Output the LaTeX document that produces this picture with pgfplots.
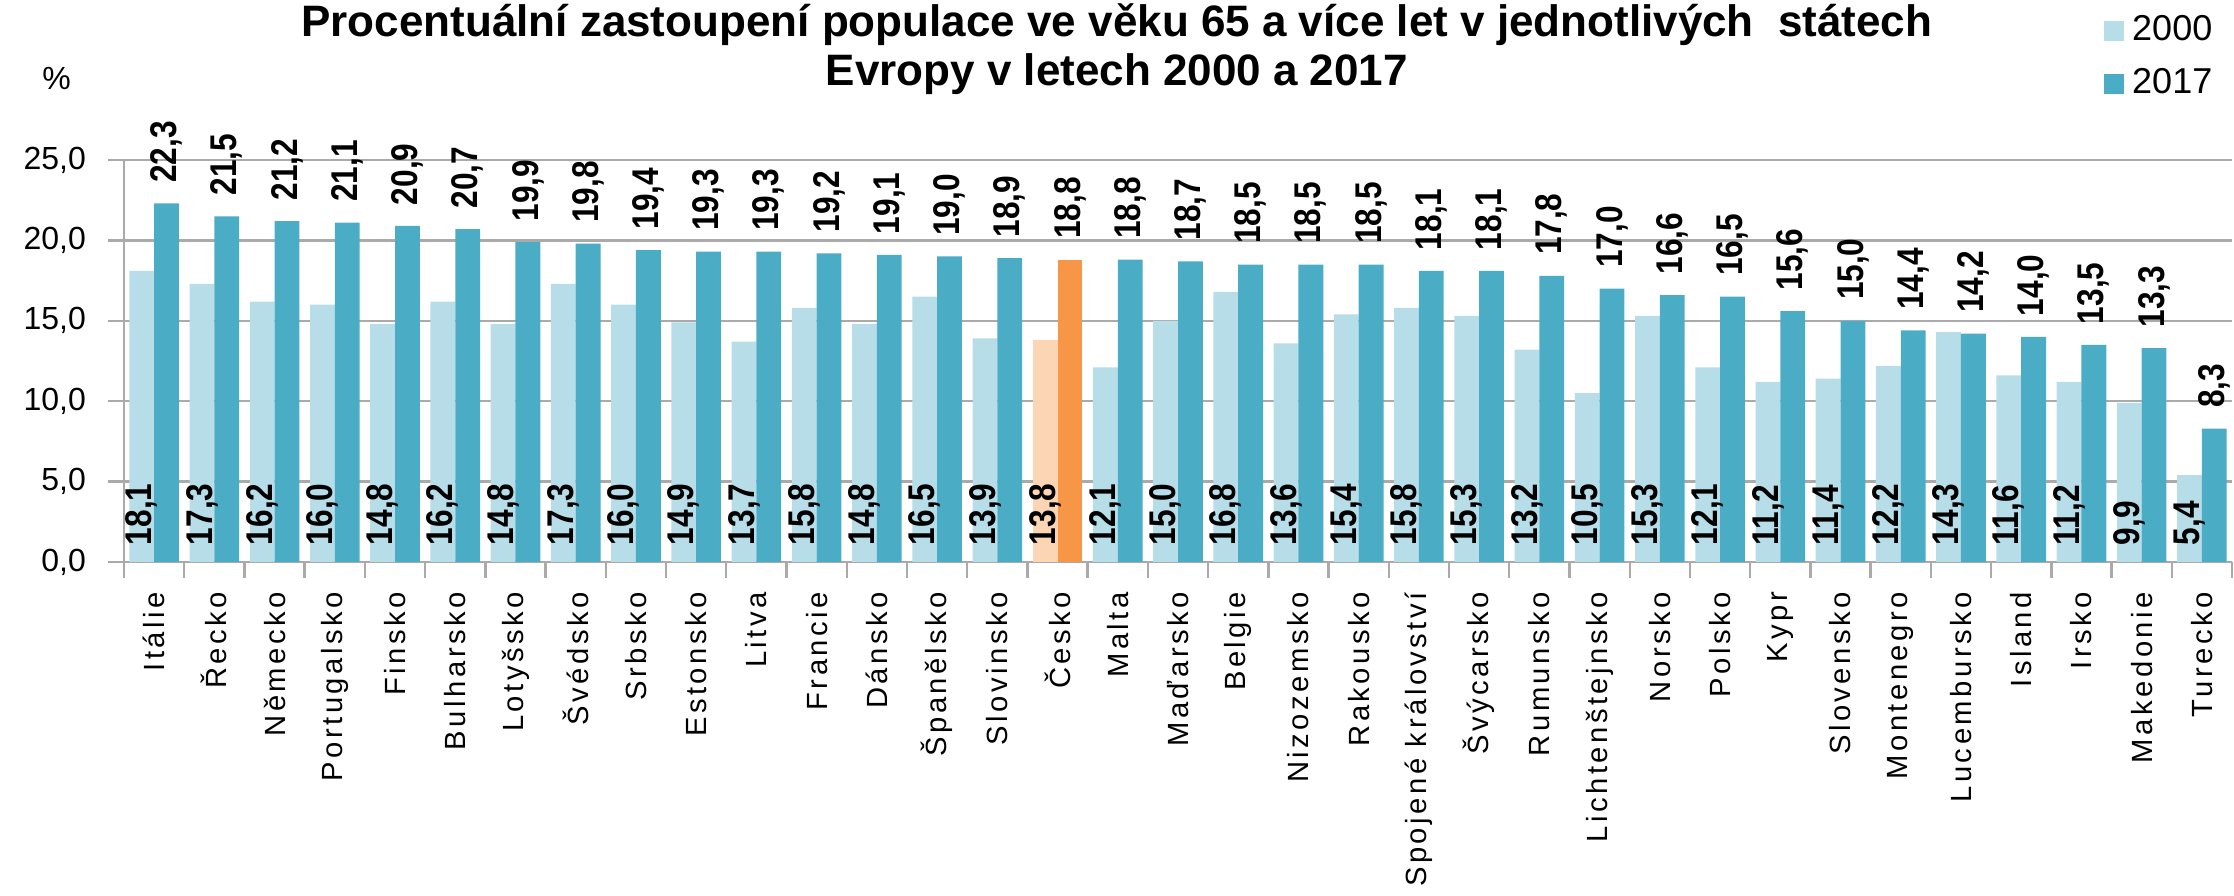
\documentclass[border=0pt]{standalone}
\usepackage{fontspec}
\setmainfont{Liberation Sans}
\newfontfamily\catfont{Liberation Sans}[LetterSpace=12]
\newfontfamily\valfont{Liberation Sans}[FakeStretch=0.85]
\usepackage{pgfplots}
\usepackage{pgfplotstable}
\pgfplotsset{compat=1.18}

\definecolor{c2000}{RGB}{183,221,232}
\definecolor{c2017}{RGB}{75,172,198}
\definecolor{o2000}{RGB}{252,213,180}
\definecolor{o2017}{RGB}{247,150,70}
\definecolor{gridc}{RGB}{170,170,170}

% podil obyvatel 65+ (%), 2000 a 2017
\pgfplotstableread{
i  y2000 y2017
0  18.1  22.3
1  17.3  21.5
2  16.2  21.2
3  16.0  21.1
4  14.8  20.9
5  16.2  20.7
6  14.8  19.9
7  17.3  19.8
8  16.0  19.4
9  14.9  19.3
10 13.7  19.3
11 15.8  19.2
12 14.8  19.1
13 16.5  19.0
14 13.9  18.9
16 12.1  18.8
17 15.0  18.7
18 16.8  18.5
19 13.6  18.5
20 15.4  18.5
21 15.8  18.1
22 15.3  18.1
23 13.2  17.8
24 10.5  17.0
25 15.3  16.6
26 12.1  16.5
27 11.2  15.6
28 11.4  15.0
29 12.2  14.4
30 14.3  14.2
31 11.6  14.0
32 11.2  13.5
33  9.9  13.3
34  5.4   8.3
}\evropa

\pgfplotstableread{
i  y2000 y2017
15 13.8  18.8
}\cesko

\def\yu{4.02pt}% 100.5pt / 25

\begin{document}
\begin{tikzpicture}
\begin{axis}[
    scale only axis,
    width=527pt,
    height=100.5pt,
    xmin=-0.5, xmax=34.5,
    ymin=0, ymax=25,
    clip=false,
    axis lines*=left,
    axis line style={gridc, line width=0.7pt},
    ytick={0,5,...,25},
    ymajorgrids,
    grid style={gridc, line width=0.6pt},
    tick align=outside,
    major tick length=4pt,
    minor tick length=4pt,
    tick style={gridc, line width=0.6pt},
    xtick={0,...,34},
    major x tick style={draw=none},
    minor xtick={-0.5,0.5,...,34.5},
    xticklabels={Itálie,Řecko,Německo,Portugalsko,Finsko,Bulharsko,Lotyšsko,Švédsko,Srbsko,Estonsko,Litva,Francie,Dánsko,Španělsko,Slovinsko,Česko,Malta,Maďarsko,Belgie,Nizozemsko,Rakousko,Spojené království,Švýcarsko,Rumunsko,Lichtenštejnsko,Norsko,Polsko,Kypr,Slovensko,Montenegro,Lucembursko,Island,Irsko,Makedonie,Turecko},
    xticklabel style={rotate=90, anchor=east, font=\catfont\fontsize{7.3}{8}\selectfont},
    yticklabel style={font=\fontsize{8}{9}\selectfont, xshift=-2pt},
    /pgf/number format/.cd, use comma, fixed, fixed zerofill, precision=1, assume math mode=true,
    /pgfplots/.cd,
    ybar,
    bar width=6.2pt,
    title={Procentuální zastoupení populace ve věku 65 a více let v jednotlivých\ \ státech\\[1.5pt]Evropy v letech 2000 a 2017},
    title style={at={(0.471,1.332)}, anchor=north, align=center, inner sep=0pt,
        font=\bfseries\fontsize{11}{10.75}\selectfont},
    legend style={at={(0.939,1.382)}, anchor=north west, draw=none, fill=none,
        font=\fontsize{9}{10}\selectfont, inner sep=0pt, row sep=1.6pt,
        /tikz/every even column/.style={column sep=1.5pt}},
    legend cell align=left,
    legend image code/.code={\fill[#1] (0pt,-2.5pt) rectangle (5pt,2.5pt);},
]
\addplot[fill=c2000, draw=none, bar shift=-3.1pt,
    nodes near coords, visualization depends on={y \as \rawy},
    nodes near coords style={yshift={(1-\rawy)*\yu}, rotate=90, anchor=west,
        inner sep=0pt, text=black, font=\valfont\bfseries\fontsize{9.3}{10}\selectfont}]
    table[x=i, y=y2000] {\evropa};
\addlegendentry{2000}
\addplot[fill=c2017, draw=none, bar shift=3.1pt,
    nodes near coords,
    nodes near coords style={rotate=90, anchor=west,
        inner sep=0pt, xshift=5pt, text=black, font=\valfont\bfseries\fontsize{9.3}{10}\selectfont}]
    table[x=i, y=y2017] {\evropa};
\addlegendentry{2017}
\addplot[forget plot, fill=o2000, draw=none, bar shift=-3.1pt,
    nodes near coords, visualization depends on={y \as \rawy},
    nodes near coords style={yshift={(1-\rawy)*\yu}, rotate=90, anchor=west,
        inner sep=0pt, text=black, font=\valfont\bfseries\fontsize{9.3}{10}\selectfont}]
    table[x=i, y=y2000] {\cesko};
\addplot[forget plot, fill=o2017, draw=none, bar shift=3.1pt,
    nodes near coords,
    nodes near coords style={rotate=90, anchor=west,
        inner sep=0pt, xshift=5pt, text=black, font=\valfont\bfseries\fontsize{9.3}{10}\selectfont}]
    table[x=i, y=y2017] {\cesko};
\node[font=\fontsize{8}{9}\selectfont] at (rel axis cs:-0.032,1.204) {\%};
\end{axis}
\pgfresetboundingbox
\path (-31pt,-83.5pt) rectangle (527.5pt,140.5pt);
\end{tikzpicture}
\end{document}
